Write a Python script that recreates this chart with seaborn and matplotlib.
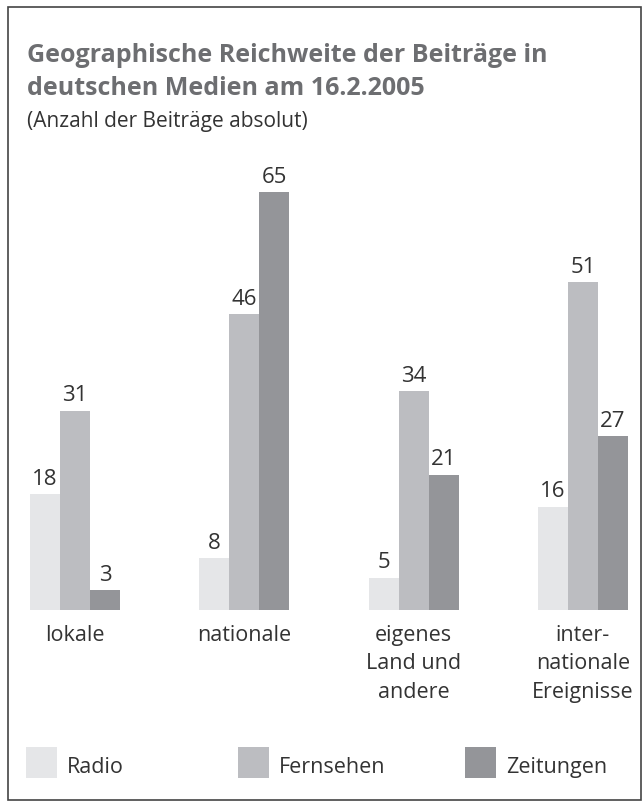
import pandas as pd
import numpy as np
import matplotlib.pyplot as plt
from matplotlib.patches import Rectangle
import seaborn as sns

# data
categories = ["lokale", "nationale", "eigenes\nLand und\nandere", "inter-\nnationale\nEreignisse"]
media = ["Radio", "Fernsehen", "Zeitungen"]
radio = [18, 8, 5, 16]
fernsehen = [31, 46, 34, 51]
zeitungen = [3, 65, 21, 27]
colors = ["#e5e6e8", "#bcbdc1", "#949599"]

df = pd.DataFrame({
    "kategorie": categories * 3,
    "medium": np.repeat(media, len(categories)),
    "anzahl": radio + fernsehen + zeitungen,
})

sns.set_style("white")
plt.rcParams["font.family"] = ["Open Sans", "DejaVu Sans"]

W, H = 644, 804
fig = plt.figure(figsize=(W / 100, H / 100), dpi=100)

def fx(px):
    return px / W

def fy(px):
    return 1 - px / H

base = 610.7
top = 170
ax = fig.add_axes([fx(30), fy(base), fx(598), (base - top) / H])

sns.barplot(
    data=df, x="kategorie", y="anzahl", hue="medium",
    order=categories, hue_order=media,
    palette=dict(zip(media, colors)), saturation=1,
    width=0.533, gap=0, linewidth=0, legend=False, ax=ax
)
ax.set_xlim(-0.2665, 3.2665)
ax.set_ylim(0, (base - top) / 6.42)

for cont in ax.containers:
    ax.bar_label(cont, padding=4, fontsize=16, color="#333333")

ax.set_xlabel("")
ax.set_ylabel("")
ax.set_yticks([])
ax.tick_params(axis="x", length=0, pad=10, labelsize=15.5, labelcolor="#333333")
for lbl in ax.get_xticklabels():
    lbl.set_linespacing(1.47)
sns.despine(ax=ax, left=True, bottom=True)
ax.patch.set_alpha(0)

# titles
fig.text(fx(27), fy(62), "Geographische Reichweite der Beiträge in",
         fontsize=18, fontweight="bold", color="#6d6e71", va="baseline")
fig.text(fx(27), fy(95), "deutschen Medien am 16.2.2005",
         fontsize=18, fontweight="bold", color="#6d6e71", va="baseline")
fig.text(fx(27), fy(127), "(Anzahl der Beiträge absolut)",
         fontsize=15, color="#333333", va="baseline")

# legend
leg_x = [26, 238, 465]
for x0, name, c in zip(leg_x, media, colors):
    fig.add_artist(Rectangle((fx(x0), fy(779)), fx(31), 31 / H,
                             transform=fig.transFigure, color=c, lw=0))
    fig.text(fx(x0 + 41), fy(773), name, fontsize=15.5, color="#333333", va="baseline")

# frame
fig.add_artist(Rectangle((fx(8), fy(801)), fx(633), 793 / H,
                         transform=fig.transFigure, fill=False,
                         edgecolor="#444444", lw=1.2))

fig.savefig("out.png", dpi=100)
